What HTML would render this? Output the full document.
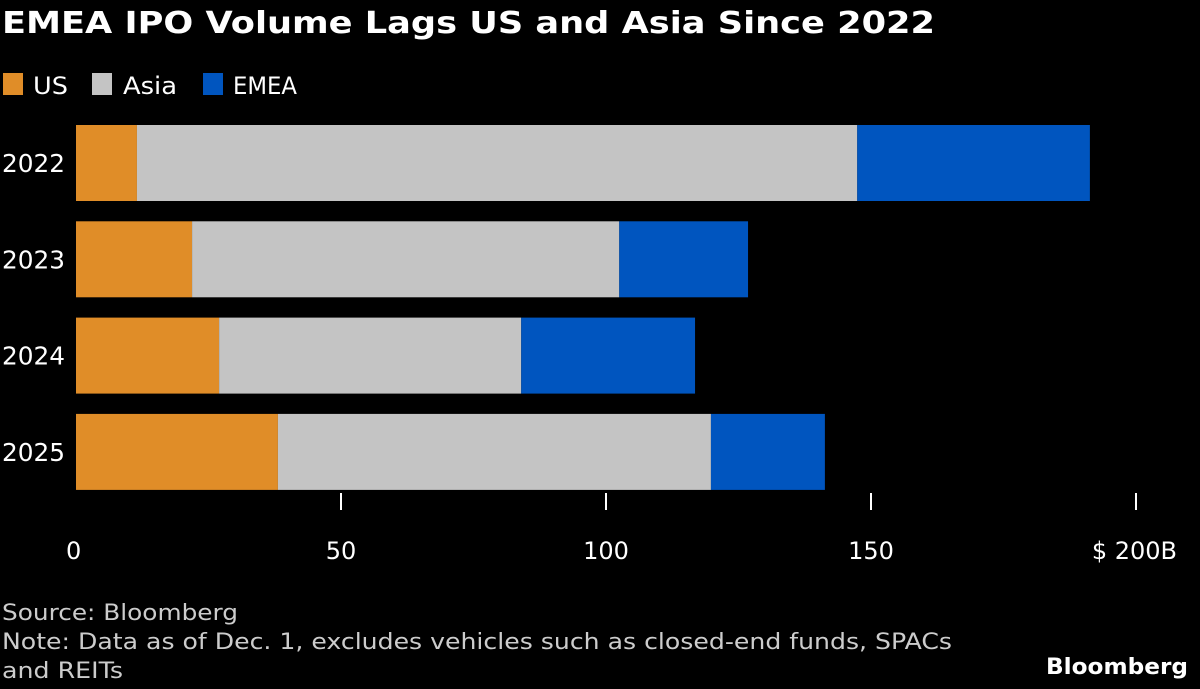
<!DOCTYPE html>
<html><head><meta charset="utf-8"><style>
body{margin:0;background:#000;width:1200px;height:689px;overflow:hidden;font-family:"DejaVu Sans","Liberation Sans",sans-serif;color:#fff}
svg{position:absolute;left:0;top:0;font-family:"DejaVu Sans","Liberation Sans",sans-serif}
</style></head><body>
<svg width="1200" height="689" id="c">
<text x="2" y="33" font-size="30" font-weight="bold" fill="#fff" textLength="933" lengthAdjust="spacingAndGlyphs">EMEA IPO Volume Lags US and Asia Since 2022</text>
<g>
<rect x="3" y="73" width="20" height="22" fill="#e08d28"/>
<text x="33" y="94" font-size="24" fill="#fff" textLength="35" lengthAdjust="spacingAndGlyphs">US</text>
<rect x="92" y="73" width="20" height="22" fill="#c4c4c4"/>
<text x="123" y="94" font-size="24" fill="#fff" textLength="54" lengthAdjust="spacingAndGlyphs">Asia</text>
<rect x="203" y="73" width="20" height="22" fill="#0055bf"/>
<text x="233" y="94" font-size="24" fill="#fff" textLength="64" lengthAdjust="spacingAndGlyphs">EMEA</text>
</g>
<g id="bars"></g>
<g id="axis"></g>
<text x="2" y="620" font-size="22" fill="#ccc" textLength="236" lengthAdjust="spacingAndGlyphs">Source: Bloomberg</text>
<text x="2" y="649" font-size="22" fill="#ccc" textLength="950" lengthAdjust="spacingAndGlyphs">Note: Data as of Dec. 1, excludes vehicles such as closed-end funds, SPACs</text>
<text x="2" y="678" font-size="22" fill="#ccc" textLength="121" lengthAdjust="spacingAndGlyphs">and REITs</text>
<text x="1188" y="674" font-size="22" font-weight="bold" fill="#fff" text-anchor="end" textLength="142" lengthAdjust="spacingAndGlyphs">Bloomberg</text>
</svg>
<script>
const categories=["2022","2023","2024","2025"];
const us=[11.5,21.9,27,38.1];
const asia=[135.9,80.6,57,81.7];
const emea=[43.9,24.3,32.8,21.5];
const ticks=[0,50,100,150,200];
const tickLabels=["0","50","100","150","$ 200B"];
const NS="http://www.w3.org/2000/svg";
const x=v=>76+v*5.3;
const yTop=i=>125+i*96.3;
const bh=76;
const colors=["#e08d28","#c4c4c4","#0055bf"];
const names=["us","asia","emea"];
const bars=document.getElementById('bars');
categories.forEach((c,i)=>{
  let acc=0;
  [us[i],asia[i],emea[i]].forEach((v,s)=>{
    const r=document.createElementNS(NS,'rect');
    r.setAttribute('x',x(acc));r.setAttribute('y',yTop(i));
    r.setAttribute('width',x(acc+v)-x(acc));r.setAttribute('height',bh);
    r.setAttribute('fill',colors[s]);
    
    
    bars.appendChild(r);acc+=v;
  });
  const t=document.createElementNS(NS,'text');
  t.setAttribute('x',2);t.setAttribute('y',yTop(i)+bh/2+9);
  t.setAttribute('font-size','25');t.setAttribute('fill','#fff');
  t.setAttribute('textLength','63');t.setAttribute('lengthAdjust','spacingAndGlyphs');
  t.textContent=c;
  
  
  bars.appendChild(t);
});
const ax=document.getElementById('axis');
ticks.forEach((v,i)=>{
  if(i>0){const l=document.createElementNS(NS,'line');
  l.setAttribute('x1',x(v));l.setAttribute('x2',x(v));l.setAttribute('y1',493);l.setAttribute('y2',510);
  l.setAttribute('stroke','#fff');l.setAttribute('stroke-width','2');
  
  
  ax.appendChild(l);}
  const t=document.createElementNS(NS,'text');
  t.setAttribute('y',559);
  t.setAttribute('font-size','24');t.setAttribute('fill','#fff');
  if(i==0){t.setAttribute('x',66);t.setAttribute('text-anchor','start');}
  else if(i==ticks.length-1){t.setAttribute('x',1177);t.setAttribute('text-anchor','end');}
  else{t.setAttribute('x',x(v));t.setAttribute('text-anchor','middle');}
  t.textContent=tickLabels[i];
  
  
  ax.appendChild(t);
});
</script>
</body></html>
